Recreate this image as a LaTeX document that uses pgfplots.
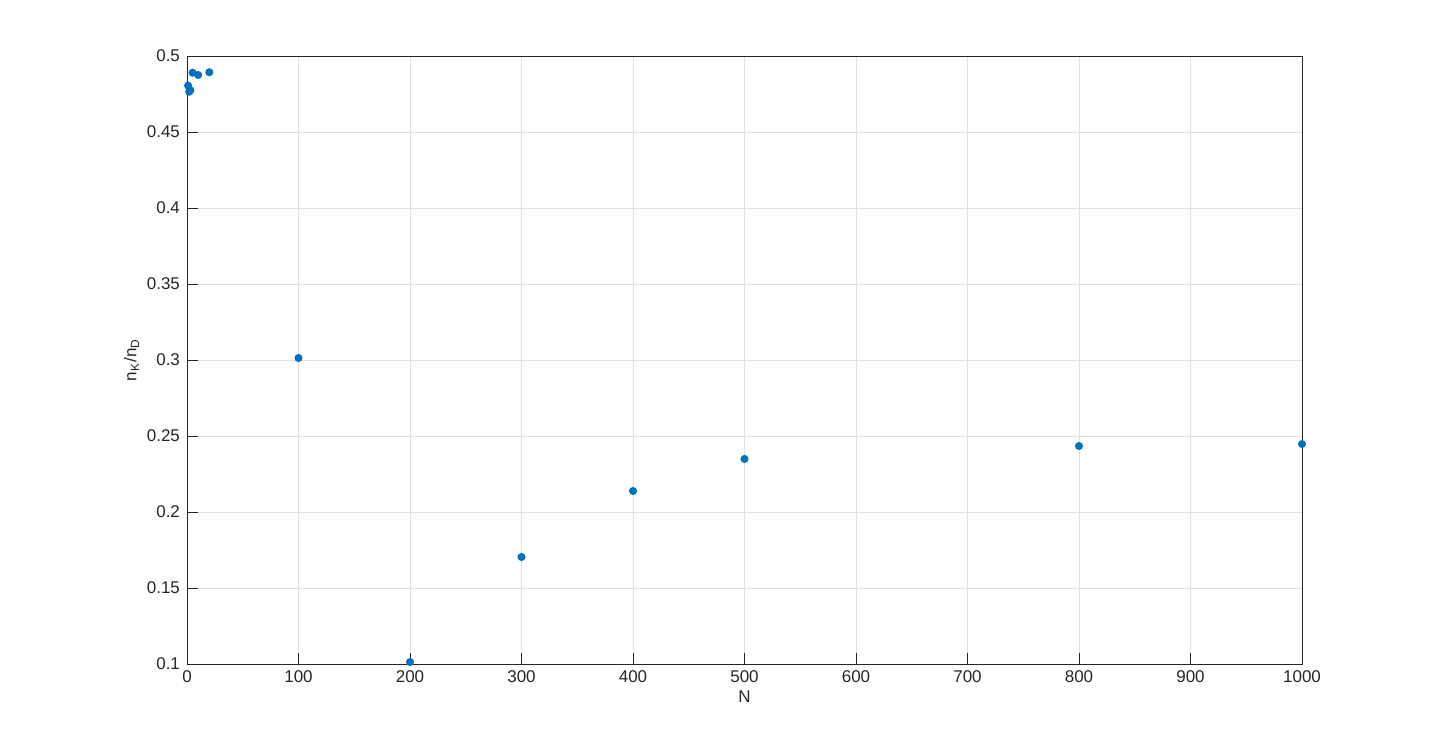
\documentclass[border=0pt]{standalone}
\usepackage{fontspec}
\setmainfont{Liberation Sans}
\usepackage{pgfplots}
\pgfplotsset{compat=1.18}
\definecolor{mblue}{RGB}{0,114,189}
\definecolor{axc}{RGB}{38,38,38}
\begin{document}
\begin{tikzpicture}
\begin{axis}[
  name=ax,
  scale only axis,
  width=557.5pt, height=304pt,
  xmin=0, xmax=1000, ymin=0.1, ymax=0.5,
  xtick={0,100,...,1000},
  ytick={0.1,0.15,...,0.5},
  yticklabels={0.1,0.15,0.2,0.25,0.3,0.35,0.4,0.45,0.5},
  scaled ticks=false,
  /pgf/number format/assume math mode=true,
  /pgf/number format/fixed,
  /pgf/number format/1000 sep={},
  font=\fontsize{8.5}{10}\selectfont,
  tick label style={font=\fontsize{8.5}{10}\selectfont, color=axc},
  grid=major,
  major grid style={color=black!12, line width=0.4pt},
  axis line style={color=axc, line width=0.4pt},
  tick style={color=axc, line width=0.4pt},
  major tick length=5.5pt,
  tick align=inside,
  xtick pos=bottom, ytick pos=left,
  xlabel={N},
  ylabel={n\textsubscript{K}/n\textsubscript{D}},
  label style={color=axc},
  xlabel style={yshift=3pt},
  ylabel style={yshift=-3pt},
]
\addplot[only marks, mark=*, mark size=1.8pt, color=mblue, mark options={fill=mblue, draw=mblue}] coordinates {
(1,0.4805) (2,0.4765) (3,0.4775) (5,0.4890) (10,0.4875) (20,0.4893)
(100,0.3013) (200,0.1013) (300,0.1704) (400,0.2138) (500,0.2349)
(800,0.2434) (1000,0.2447)
};
\end{axis}
\path (ax.south west) ++(-93.5pt,-41.5pt) rectangle ++(720pt,373.5pt);
\end{tikzpicture}
\end{document}
